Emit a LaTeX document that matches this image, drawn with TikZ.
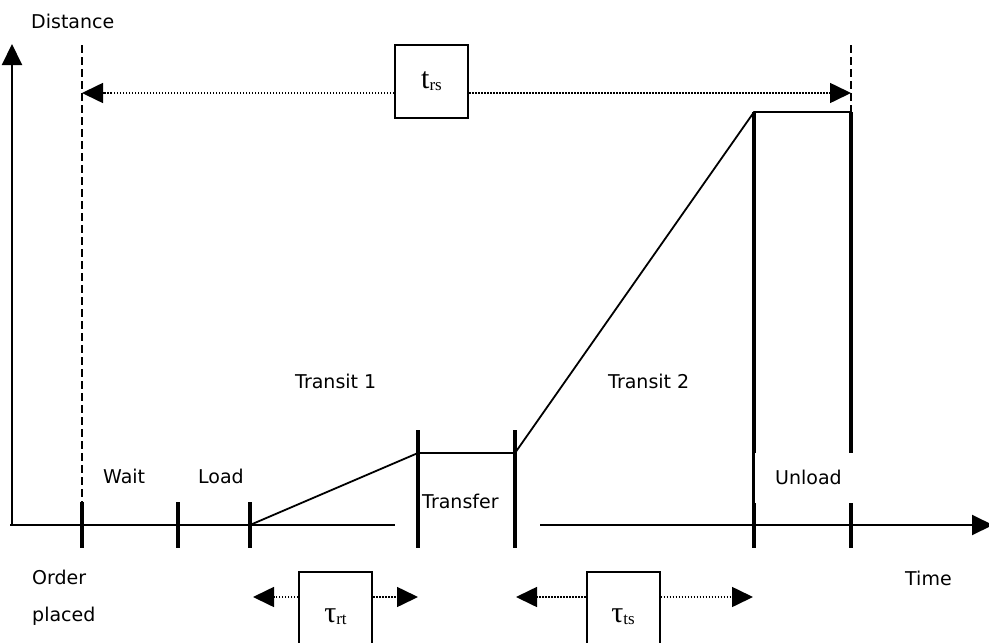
\documentclass[tikz,border=0pt]{standalone}
\usepackage{fontspec}
\setmainfont{DejaVu Sans}
\newfontfamily\timesfont{Liberation Serif}
\usetikzlibrary{arrows.meta}

\newcommand{\spanlabel}[2]{\timesfont\fontsize{30}{32}\selectfont #1\fontsize{17}{18}\selectfont\raisebox{-2pt}{#2}}

\begin{document}
\begin{tikzpicture}[x=1pt,y=-1pt,
  axis/.style={line width=2pt,-{Triangle[length=21pt,width=20pt]}},
  phasebar/.style={line width=3.8pt},
  trace/.style={line width=1.8pt},
  guide/.style={line width=2pt,dash pattern=on 8pt off 4pt},
  span/.style={line width=1.6pt,dash pattern=on 1.5pt off 1.5pt,
    -{Triangle[length=21pt,width=20pt]}},
  timebox/.style={draw,line width=2pt,fill=white,minimum width=73pt,
    minimum height=73pt,inner sep=0pt},
  gap/.style={fill=white,inner sep=0pt},
  lbl/.style={font=\fontsize{19}{22}\selectfont,inner sep=0pt,anchor=base west}
]
% canvas
\fill[white] (0,0) rectangle (989,643);
\useasboundingbox (0,0) rectangle (989,643);

% axes
\coordinate (O) at (12,525);
\coordinate (ytip) at (12,44);
\coordinate (xtip) at (993,525);
\draw[axis] (O) -- (ytip);
\draw[axis] (10,525) -- (xtip);

% white gap behind the Transfer label
\node[gap,minimum width=145pt,minimum height=56pt] (transfergap) at (467.5,501) {};

% phase boundaries (yshift is measured upwards)
\coordinate (t0) at (82,525);
\coordinate (t1) at (178,525);
\coordinate (t2) at (250,525);
\coordinate (t3) at (418,525);
\coordinate (t4) at (515,525);
\coordinate (t5) at (754,525);
\coordinate (t6) at (851,525);
\foreach \p in {t0,t1,t2} \draw[phasebar] ([yshift=23pt]\p) -- ([yshift=-23pt]\p);
\foreach \p in {t3,t4} \draw[phasebar] ([yshift=95pt]\p) -- ([yshift=-23pt]\p);
\foreach \p in {t5,t6} \draw[phasebar] ([yshift=413pt]\p) -- ([yshift=-23pt]\p);

% white gap behind the Unload label
\node[gap,minimum width=116pt,minimum height=50pt] (unloadgap) at (812.5,478) {};

% distance travelled
\coordinate (a) at (418,453);
\coordinate (b) at (515,453);
\coordinate (c) at (754,112);
\coordinate (d) at (851,112);
\draw[trace] (t2) -- (a) -- (b) -- (c) -- (d);

% dashed guides for the total span
\draw[guide] (82,45) -- (82,502);
\draw[guide] (851,45) -- (c -| t6);

% labels
\node[lbl] (distance) at (31,28) {Distance};
\node[lbl] (wait) at (103,483) {Wait};
\node[lbl] (load) at (198,483) {Load};
\node[lbl] (transit1) at (295,388) {Transit 1};
\node[lbl] (transit2) at (608,388) {Transit 2};
\node[lbl] (transfer) at (422,508) {Transfer};
\node[lbl] (unload) at (775,484) {Unload};
\node[lbl] (order) at (32,584) {Order};
\node[lbl] (placed) at (32,621) {placed};
\node[lbl] (time) at (905,585) {Time};

% total span t_rs
\node[timebox] (trs) at (431.5,81) {\raisebox{1pt}{\spanlabel{t}{rs}}};
\coordinate (trsL) at (82,93);
\coordinate (trsR) at (851,93);
\draw[span] (trs.west |- trsL) -- (trsL);
\draw[span] (trs.east |- trsR) -- (trsR);

% transit spans
\node[timebox] (taurt) at (335.5,608.5) {\raisebox{-14pt}[0pt][0pt]{\spanlabel{τ}{rt}}};
\coordinate (rtL) at (253,597);
\coordinate (rtR) at (418,597);
\draw[span] (taurt.west |- rtL) -- (rtL);
\draw[span] (taurt.east |- rtR) -- (rtR);

\node[timebox] (tauts) at (623,608.5) {\raisebox{-14pt}[0pt][0pt]{\spanlabel{τ}{ts}}};
\coordinate (tsL) at (516,597);
\coordinate (tsR) at (753,597);
\draw[span] (tauts.west |- tsL) -- (tsL);
\draw[span] (tauts.east |- tsR) -- (tsR);
\end{tikzpicture}
\end{document}
